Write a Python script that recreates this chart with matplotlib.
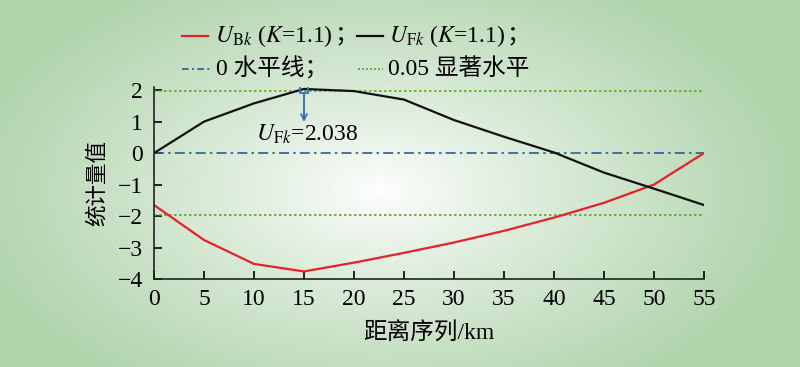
import numpy as np
import matplotlib
matplotlib.use('Agg')
import matplotlib.pyplot as plt
from matplotlib.lines import Line2D

plt.rcParams['font.family'] = ['Liberation Serif', 'Noto Sans CJK SC']
plt.rcParams['mathtext.fontset'] = 'stix'

# data
dist = [0, 5, 10, 15, 20, 25, 30, 35, 40, 45, 50, 55]
u_fk = [0.0, 1.0, 1.58, 2.038, 1.97, 1.7, 1.05, 0.52, 0.02, -0.62, -1.13, -1.65]
u_bk = [-1.65, -2.76, -3.52, -3.76, -3.48, -3.17, -2.84, -2.47, -2.05, -1.58, -1.0, 0.0]
sig_level = 1.96
x_ticks = [0, 5, 10, 15, 20, 25, 30, 35, 40, 45, 50, 55]
y_ticks = [-4, -3, -2, -1, 0, 1, 2]

W, H = 800, 367
fig = plt.figure(figsize=(8, 3.67), dpi=100)

# green radial background
bg = fig.add_axes([0, 0, 1, 1], zorder=-10)
xx, yy = np.meshgrid(np.arange(W), np.arange(H))
r = np.sqrt(((xx - 380) / 420.0) ** 2 + ((yy - 190) / 240.0) ** 2)
t = np.clip(r, 0, 1) ** 0.85
white = np.array([1.0, 1.0, 1.0])
green = np.array([176, 212, 172]) / 255.0
img = white[None, None, :] * (1 - t[..., None]) + green[None, None, :] * t[..., None]
bg.imshow(img, aspect='auto', extent=[0, 1, 0, 1])
bg.axis('off')

ax = fig.add_axes([154 / W, 1 - 279 / H, 550 / W, 192 / H])
ax.patch.set_alpha(0)

red = '#e8202a'
black = '#111111'
blue = '#2f56a8'
grn = '#5aa52c'
arrow_blue = '#3a70c8'
dashdot = (0, (6, 2.5, 1.5, 2.5))
dotted = (0, (1.5, 1.5))

ax.axhline(0, color=blue, ls=dashdot, lw=1.2)
ax.axhline(sig_level, color=grn, ls=dotted, lw=1.2)
ax.axhline(-sig_level, color=grn, ls=dotted, lw=1.2)
ax.plot(dist, u_bk, color=red, lw=1.6)
ax.plot(dist, u_fk, color=black, lw=1.6)

ax.plot([15], [2.038], marker='s', ms=6, mfc='none', mec=arrow_blue, mew=1.3)
ax.annotate('', xy=(15, 0.9), xytext=(15, 1.99),
            arrowprops=dict(arrowstyle='->', color=arrow_blue, lw=1.4))
ax.text(10.2, 0.6, r'$U_{\mathrm{F}k}$=2.038', fontsize=17, va='center', ha='left')

ax.set_xlim(0, 55)
ax.set_ylim(-4, 2.1)
ax.set_xticks(x_ticks)
ax.set_yticks(y_ticks)
ax.tick_params(direction='in', length=6, width=1.2, labelsize=17)
ax.tick_params(axis='y', pad=8)
ax.tick_params(axis='x', pad=7)
for s in ['top', 'right']:
    ax.spines[s].set_visible(False)
for s in ['left', 'bottom']:
    ax.spines[s].set_linewidth(1.2)
    ax.spines[s].set_color('#222222')

ax.set_xlabel('距离序列/km', fontsize=17, labelpad=9)
ax.set_ylabel('统计量值', fontsize=15.5, labelpad=7)

# legend drawn by hand so the full-width semicolon can follow the math text
legend_rows = [
    (36, [(182, 208, red, '-', 1.6, r'$U_{\mathrm{B}k}$ ($K$=1.1)', 215),
          (357, 383, black, '-', 1.6, r'$U_{\mathrm{F}k}$ ($K$=1.1)', 389)]),
    (69, [(182, 210, blue, (0, (4, 2, 1.2, 2)), 1.2, '0 水平线；', 216),
          (358, 383, grn, (0, (1.2, 1.2)), 1.2, '0.05 显著水平', 388)]),
]
math_texts = []
for y, entries in legend_rows:
    yf = 1 - y / H
    for x0, x1, c, ls, lw, label, tx in entries:
        fig.add_artist(Line2D([x0 / W, x1 / W], [yf, yf], color=c, ls=ls, lw=lw,
                              transform=fig.transFigure))
        txt = fig.text(tx / W, yf, label, fontsize=17, va='center', ha='left')
        if label.startswith('$'):
            math_texts.append(txt)

fig.canvas.draw()
renderer = fig.canvas.get_renderer()
for txt in math_texts:
    bb = txt.get_window_extent(renderer)
    fig.text(bb.x1 / W + 0.002, txt.get_position()[1], '；', fontsize=17,
             va='center', ha='left')

fig.savefig('out.png', dpi=100)
